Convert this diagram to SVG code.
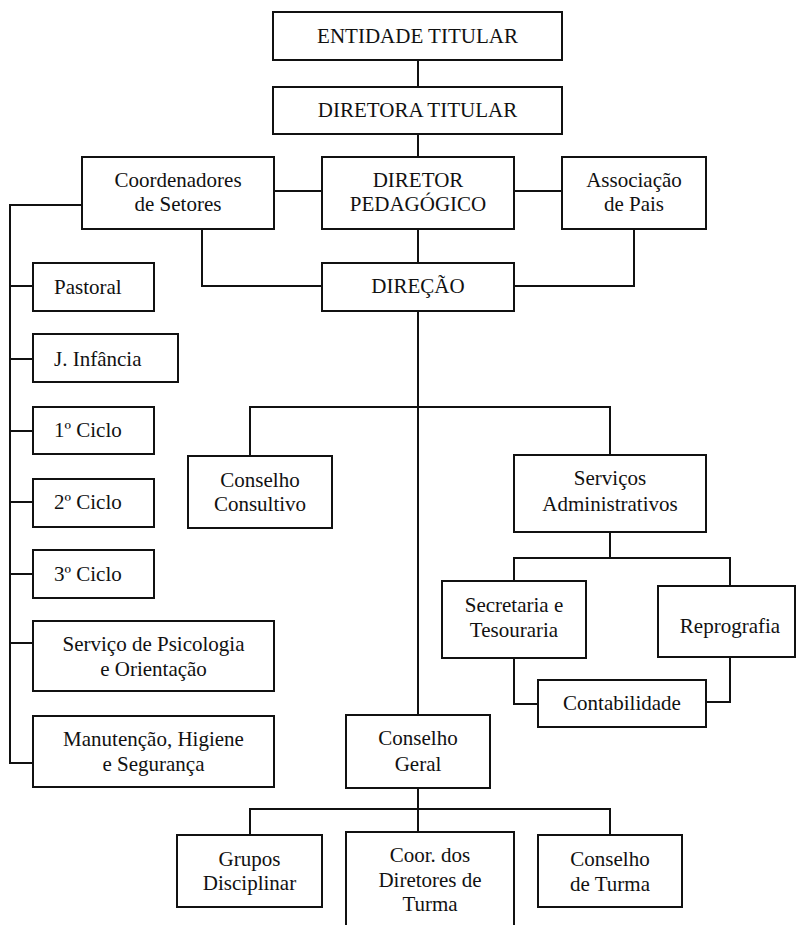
<svg xmlns="http://www.w3.org/2000/svg" width="796" height="925" viewBox="0 0 796 925">
<style>
.b{fill:#fff;stroke:#111;stroke-width:2}
.t{font-family:"Liberation Serif","Times New Roman",serif;font-size:21px;fill:#111;text-anchor:middle}
.l{font-family:"Liberation Serif","Times New Roman",serif;font-size:21px;fill:#111;text-anchor:start}
.c{fill:none;stroke:#111;stroke-width:2}
</style>
<rect width="796" height="925" fill="#fff"/>
<g id="connectors" class="c">
<path d="M418 60V87M418 134V157M274 191H322M514 191H562M418 229V263"/>
<path d="M202 229V286H322M634 229V286H514"/>
<path d="M82 205H10V763H33M10 286H33M10 359H33M10 431H33M10 502H33M10 574H33M10 643H33"/>
<path d="M418 311V715M250 456V407H610V455"/>
<path d="M610 532V558M514 581V558H730V586"/>
<path d="M514 658V704H538M706 702H730V657"/>
<path d="M418 788V832M250 835V809H610V835"/>
</g>
<g id="entidade"><rect class="b" x="273" y="12" width="289" height="48"/><text class="t" x="417.5" y="43">ENTIDADE TITULAR</text></g>
<g id="diretora"><rect class="b" x="273" y="87" width="289" height="47"/><text class="t" x="417.5" y="117">DIRETORA TITULAR</text></g>
<g id="coordenadores"><rect class="b" x="82" y="157" width="192" height="72"/><text class="t" x="178" y="187">Coordenadores</text><text class="t" x="178" y="211">de Setores</text></g>
<g id="diretor"><rect class="b" x="322" y="157" width="192" height="72"/><text class="t" x="418" y="187">DIRETOR</text><text class="t" x="418" y="211">PEDAGÓGICO</text></g>
<g id="associacao"><rect class="b" x="562" y="157" width="144" height="72"/><text class="t" x="634" y="187">Associação</text><text class="t" x="634" y="211">de Pais</text></g>
<g id="direcao"><rect class="b" x="322" y="263" width="192" height="48"/><text class="t" x="418" y="293">DIREÇÃO</text></g>
<g id="pastoral"><rect class="b" x="33" y="263" width="121" height="48"/><text class="l" x="54" y="294">Pastoral</text></g>
<g id="jinfancia"><rect class="b" x="33" y="334" width="145" height="48"/><text class="l" x="54" y="366">J. Infância</text></g>
<g id="ciclo1"><rect class="b" x="33" y="407" width="121" height="47"/><text class="l" x="54" y="437">1º Ciclo</text></g>
<g id="ciclo2"><rect class="b" x="33" y="479" width="121" height="48"/><text class="l" x="54" y="509">2º Ciclo</text></g>
<g id="ciclo3"><rect class="b" x="33" y="550" width="121" height="48"/><text class="l" x="54" y="581">3º Ciclo</text></g>
<g id="psicologia"><rect class="b" x="33" y="621" width="241" height="70"/><text class="t" x="153.5" y="651">Serviço de Psicologia</text><text class="t" x="153.5" y="676">e Orientação</text></g>
<g id="manutencao"><rect class="b" x="33" y="716" width="241" height="71"/><text class="t" x="153.5" y="746">Manutenção, Higiene</text><text class="t" x="153.5" y="771">e Segurança</text></g>
<g id="consultivo"><rect class="b" x="188" y="456" width="144" height="72"/><text class="t" x="260" y="487">Conselho</text><text class="t" x="260" y="511">Consultivo</text></g>
<g id="servicos"><rect class="b" x="514" y="455" width="192" height="77"/><text class="t" x="610" y="485">Serviços</text><text class="t" x="610" y="511">Administrativos</text></g>
<g id="secretaria"><rect class="b" x="442" y="581" width="144" height="77"/><text class="t" x="514" y="612">Secretaria e</text><text class="t" x="514" y="637">Tesouraria</text></g>
<g id="reprografia"><rect class="b" x="658" y="586" width="137" height="71"/><text class="t" x="730" y="633">Reprografia</text></g>
<g id="contabilidade"><rect class="b" x="538" y="680" width="168" height="47"/><text class="t" x="622" y="710">Contabilidade</text></g>
<g id="conselhogeral"><rect class="b" x="346" y="715" width="144" height="73"/><text class="t" x="418" y="745">Conselho</text><text class="t" x="418" y="771">Geral</text></g>
<g id="grupos"><rect class="b" x="177" y="835" width="145" height="72"/><text class="t" x="249.5" y="866">Grupos</text><text class="t" x="249.5" y="890">Disciplinar</text></g>
<g id="coordiretores"><rect class="b" x="346" y="832" width="168" height="110"/><text class="t" x="430" y="862">Coor. dos</text><text class="t" x="430" y="887">Diretores de</text><text class="t" x="430" y="911">Turma</text></g>
<g id="conselhoturma"><rect class="b" x="538" y="835" width="144" height="72"/><text class="t" x="610" y="866">Conselho</text><text class="t" x="610" y="891">de Turma</text></g>
</svg>
